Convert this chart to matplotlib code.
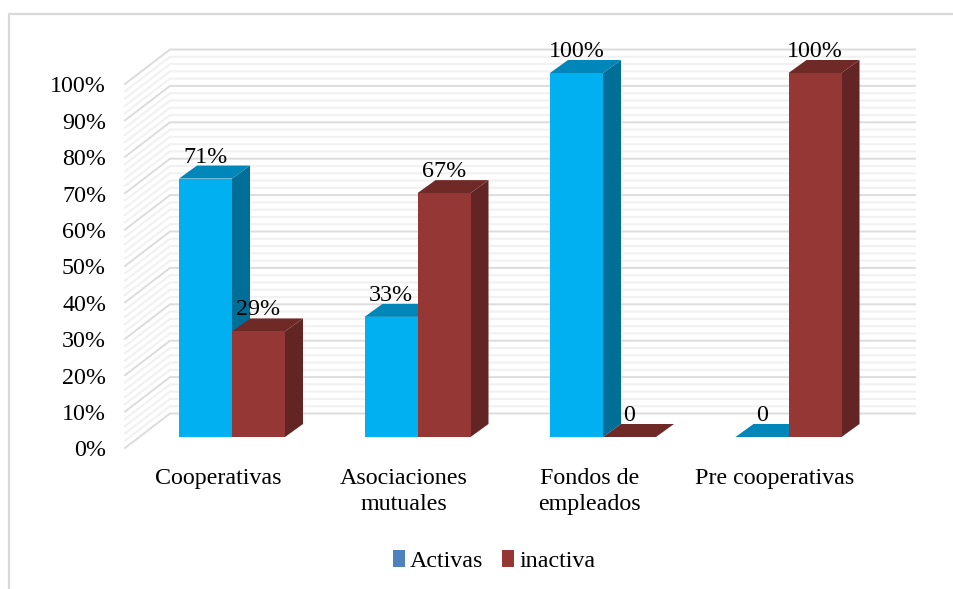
import numpy as np
import matplotlib
matplotlib.use("Agg")
import matplotlib.pyplot as plt
from matplotlib.patches import Polygon, Rectangle

plt.rcParams['font.family'] = ['Liberation Serif', 'DejaVu Serif']

categories = ["Cooperativas", "Asociaciones\nmutuales", "Fondos de\nempleados", "Pre cooperativas"]
activas = [71, 33, 100, 0]
inactiva = [29, 67, 0, 100]
label_activas = ["71%", "33%", "100%", "0"]
label_inactiva = ["29%", "67%", "0", "100%"]
major_ticks = list(range(0, 101, 10))
minor_ticks = [v for v in range(0, 101, 2) if v % 10]
series_names = ["Activas", "inactiva"]

W, H = 954, 589
PX_X = 185.5      # pixels per category
PX_Y = 3.64       # pixels per percent
X0, Y0 = 232, 437 # pixel position of first category at value 0
FS = 17.3

fig = plt.figure(figsize=(W / 100, H / 100), dpi=100, facecolor="white")
ax = fig.add_axes([0, 0, 1, 1])
ax.set_xlim(-X0 / PX_X, (W - X0) / PX_X)
ax.set_ylim((Y0 - H) / PX_Y, Y0 / PX_Y)
ax.axis("off")

dx = lambda p: p / PX_X
dy = lambda p: p / PX_Y

# chart frame
ax.plot([dx(8.5 - X0), dx(8.5 - X0), dx(W - X0)],
        [dy(Y0 - H), dy(Y0 - 14), dy(Y0 - 14)], color="#D9D9D9", lw=1.6, zorder=1)

# walls
back_l, back_r = dx(170 - X0), dx(915 - X0)
front_l = dx(125 - X0)
back_off = dy(Y0 - 413.5)
front_off = dy(Y0 - 448)
for ticks, col, lw in ((minor_ticks, "#F1F1F1", 1.5), (major_ticks, "#DCDCDC", 1.4)):
    for v in ticks:
        ax.plot([front_l, back_l, back_r],
                [v + front_off, v + back_off, v + back_off],
                color=col, lw=lw, zorder=2, solid_joinstyle="miter")

# bars
bw = 53 / PX_X
ddx, ddy = dx(18), dy(13)
BLUE = ("#00B0F0", "#0086B8", "#006F97")
RED = ("#953735", "#6F2A28", "#632523")


def bar3d(x, v, cols, z):
    ax.add_patch(Polygon([(x + bw, 0), (x + bw + ddx, ddy), (x + bw + ddx, v + ddy), (x + bw, v)],
                         fc=cols[2], ec="none", zorder=z))
    ax.add_patch(Polygon([(x, v), (x + ddx, v + ddy), (x + bw + ddx, v + ddy), (x + bw, v)],
                         fc=cols[1], ec="none", zorder=z))
    ax.add_patch(Rectangle((x, 0), bw, v, fc=cols[0], ec="none", zorder=z + 0.1))


lab_off = dy(21.5)
for i in range(len(categories)):
    bar3d(i - bw, activas[i], BLUE, 3 + i * 0.5)
    bar3d(i, inactiva[i], RED, 3.2 + i * 0.5)
    for x, v, s in ((i - bw, activas[i], label_activas[i]), (i, inactiva[i], label_inactiva[i])):
        ax.text(x + bw / 2, v + lab_off, s, ha="center", va="center",
                fontsize=FS, color="black", zorder=10)
    ax.text(i - dx(13.5), dy(Y0 - 468), categories[i], ha="center", va="top",
            fontsize=FS, color="black", linespacing=1.3, zorder=10)

# value axis labels
for v in major_ticks:
    ax.text(dx(106 - X0), v + front_off - dy(3), f"{v}%", ha="right", va="center",
            fontsize=FS, color="black", zorder=10)

# legend
handles = [Rectangle((0, 0), 1, 1, fc="#4F81BD"), Rectangle((0, 0), 1, 1, fc="#953735")]
ax.legend(handles, series_names, loc="center", bbox_to_anchor=(494 / W, 1 - 561 / H),
          ncol=2, frameon=False, fontsize=FS, handlelength=0.5, handleheight=0.72,
          handletextpad=0.2, columnspacing=0.8, borderaxespad=0)

fig.savefig("out.png", dpi=100, facecolor="white")
